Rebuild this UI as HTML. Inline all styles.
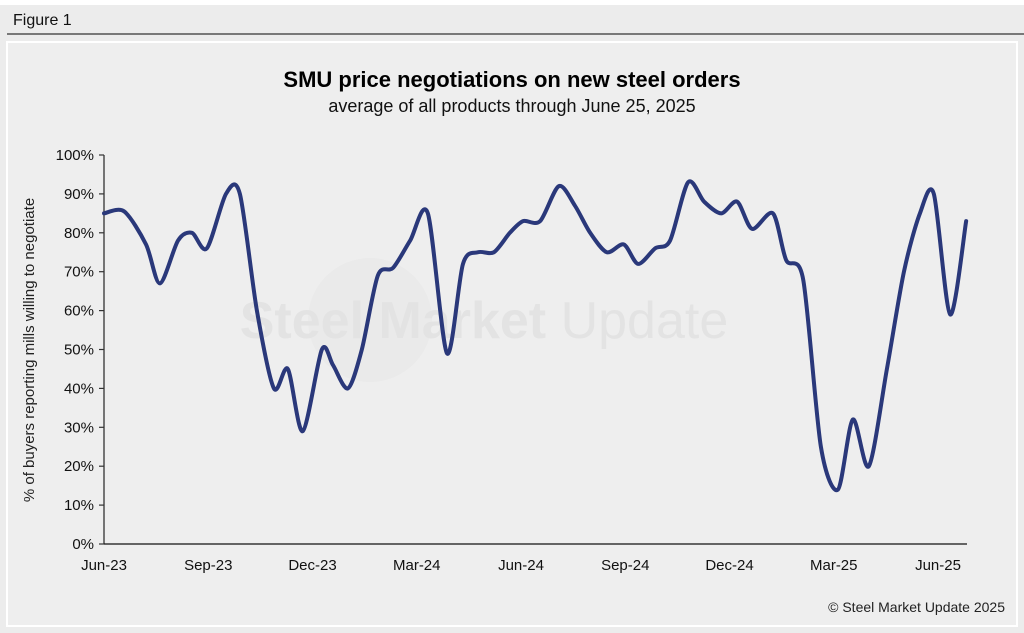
<!DOCTYPE html>
<html><head><meta charset="utf-8"><style>
html,body{margin:0;padding:0;background:#fff;}
body{width:1024px;height:633px;position:relative;overflow:hidden;font-family:"Liberation Sans",sans-serif;}
#outer{position:absolute;left:0;top:5px;width:1024px;height:628px;background:#ececec;}
</style></head><body>
<div id="outer"></div>
<svg width="1024" height="633" style="position:absolute;left:0;top:0">
<text x="13" y="25" font-size="16" fill="#111">Figure 1</text>
<line x1="7" y1="34" x2="1024" y2="34" stroke="#333" stroke-width="1.2"/>
<rect x="7" y="42" width="1010" height="584" fill="#eeeeee" stroke="#fff" stroke-width="2"/>
<text x="512" y="87" text-anchor="middle" font-size="22" font-weight="bold" fill="#000">SMU price negotiations on new steel orders</text>
<text x="512" y="112" text-anchor="middle" font-size="18" fill="#111">average of all products through June 25, 2025</text>
<circle cx="370" cy="320" r="62" fill="#eaeaea"/>
<text x="484" y="338" text-anchor="middle" font-size="52" font-weight="bold" fill="#e3e3e3">Steel Market <tspan font-weight="normal">Update</tspan></text>
<text x="34" y="350" transform="rotate(-90 34 350)" text-anchor="middle" font-size="15" fill="#222">% of buyers reporting mills willing to negotiate</text>
<g id="axes"></g>
<path id="line" fill="none" stroke="#2a387a" stroke-width="4" stroke-linejoin="round" stroke-linecap="round"/>
<text x="1005" y="612" text-anchor="end" font-size="14" fill="#222">© Steel Market Update 2025</text>
</svg>
<script>
// months since Jun-2023 for each survey
const months = [0,0.58,1.21,1.61,2.13,2.53,2.96,3.51,3.91,4.40,4.89,5.29,5.72,6.27,6.59,7.02,7.42,7.88,8.32,8.81,9.32,9.87,10.33,10.76,11.22,11.68,12.06,12.55,13.09,13.55,13.99,14.47,14.96,15.37,15.86,16.29,16.81,17.27,17.76,18.22,18.65,19.25,19.63,20.12,20.63,21.12,21.55,22.01,22.53,23.02,23.48,23.88,24.35,24.81];
const values = [85,85.5,77,67,78,80,76,90,90,60,40,45,29,50,46,40,50,69,71,78,85,49,72,75,75,80,83,83,92,87,80,75,77,72,76,78,93,88,85,88,81,85,73,68,25,14,32,20,45,70,85,90,59,83];
const yTicks = [0,10,20,30,40,50,60,70,80,90,100];
const xLabels = ["Jun-23","Sep-23","Dec-23","Mar-24","Jun-24","Sep-24","Dec-24","Mar-25","Jun-25"];
const X0=104, pxPerMonth=34.75, Y0=544, pxPerPct=3.89;
const xs = m => X0 + m*pxPerMonth;
const ys = v => Y0 - v*pxPerPct;
const NS="http://www.w3.org/2000/svg";
const g=document.getElementById('axes');
function mk(tag,attrs,parent){const e=document.createElementNS(NS,tag);for(const k in attrs)e.setAttribute(k,attrs[k]);(parent||g).appendChild(e);return e;}
let a=mk('line',{x1:X0,y1:ys(100),x2:X0,y2:Y0,stroke:'#333','stroke-width':1.3});


let b=mk('line',{x1:X0,y1:Y0,x2:967,y2:Y0,stroke:'#111','stroke-width':1.3});


yTicks.forEach(v=>{
  const t=mk('line',{x1:X0-5,y1:ys(v),x2:X0,y2:ys(v),stroke:'#333','stroke-width':1.2});
  
  
  const l=mk('text',{x:X0-10,y:ys(v)+5,'text-anchor':'end','font-size':15,fill:'#111'});
  l.textContent=v+'%';
  
  
});
xLabels.forEach((s,i)=>{
  const l=mk('text',{x:xs(i*3),y:570,'text-anchor':'middle','font-size':15,fill:'#111'});
  l.textContent=s;
  
  
});
const P=months.map((m,i)=>[xs(m),ys(values[i])]);
let d='M'+P[0][0]+','+P[0][1];
for(let i=0;i<P.length-1;i++){
  const p0=P[i-1]||P[i],p1=P[i],p2=P[i+1],p3=P[i+2]||P[i+1];
  const c1=[p1[0]+(p2[0]-p0[0])/7,p1[1]+(p2[1]-p0[1])/7];
  const c2=[p2[0]-(p3[0]-p1[0])/7,p2[1]-(p3[1]-p1[1])/7];
  d+=' C'+c1+' '+c2+' '+p2;
}
document.getElementById('line').setAttribute('d',d);
</script>
</body></html>
